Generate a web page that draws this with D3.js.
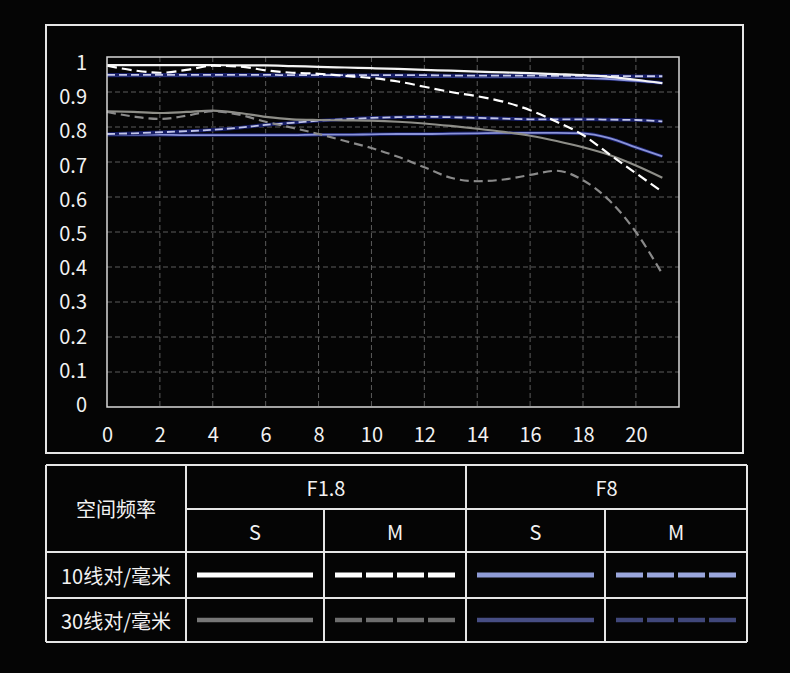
<!DOCTYPE html>
<html>
<head>
<meta charset="utf-8">
<script src="https://cdn.jsdelivr.net/npm/d3@7"></script>
<style>
  html, body { margin: 0; padding: 0; background: #050505; }
  svg text { font-family: "Noto Sans CJK SC", "Noto Sans", sans-serif; fill: #f2f2f2; }
</style>
</head>
<body>
<div id="container"></div>
<script>
'use strict';
(function() {
    // data (spatial position in mm vs MTF)
    var xs = [0, 1, 2, 3, 4, 5, 6, 7, 8, 9, 10, 11, 12, 13, 14, 15, 16, 17, 18, 19, 20, 21];
    var f18S10 = [0.977,0.977,0.977,0.977,0.977,0.976,0.976,0.974,0.972,0.970,0.968,0.966,0.963,0.961,0.958,0.956,0.954,0.951,0.948,0.943,0.935,0.925];
    var f18M10 = [0.975,0.962,0.955,0.963,0.975,0.973,0.962,0.955,0.952,0.946,0.940,0.930,0.915,0.900,0.888,0.872,0.848,0.815,0.777,0.722,0.668,0.615];
    var f18S30 = [0.845,0.843,0.840,0.843,0.847,0.840,0.829,0.822,0.820,0.819,0.818,0.815,0.810,0.803,0.795,0.786,0.775,0.760,0.742,0.720,0.690,0.655];
    var f18M30 = [0.843,0.830,0.823,0.832,0.845,0.835,0.815,0.798,0.780,0.760,0.740,0.715,0.685,0.655,0.645,0.650,0.663,0.675,0.648,0.590,0.500,0.380];
    var f8S10 = [0.947,0.947,0.947,0.947,0.947,0.947,0.947,0.947,0.946,0.946,0.946,0.946,0.945,0.945,0.944,0.944,0.943,0.942,0.940,0.937,0.932,0.926];
    var f8M10 = [0.949,0.949,0.949,0.949,0.949,0.949,0.949,0.948,0.948,0.948,0.948,0.948,0.948,0.947,0.947,0.947,0.947,0.946,0.946,0.946,0.945,0.945];
    var f8S30 = [0.778,0.778,0.778,0.777,0.777,0.777,0.777,0.777,0.778,0.778,0.779,0.780,0.780,0.781,0.782,0.783,0.783,0.783,0.782,0.768,0.742,0.716];
    var f8M30 = [0.780,0.782,0.785,0.788,0.792,0.798,0.806,0.812,0.818,0.822,0.826,0.828,0.829,0.828,0.826,0.824,0.822,0.822,0.822,0.821,0.820,0.816];

    var xTicks = [0, 2, 4, 6, 8, 10, 12, 14, 16, 18, 20];
    var yTicks = [0, 0.1, 0.2, 0.3, 0.4, 0.5, 0.6, 0.7, 0.8, 0.9, 1];

    var headCorner = '空间频率';
    var apertures = ['F1.8', 'F8'];
    var directions = ['S', 'M'];
    var frequencies = ['10线对/毫米', '30线对/毫米'];

    // series styling (drawing order: back to front)
    var series = [
        {values: f8S30, color: '#8a93d8', dash: null, navy: true},
        {values: f8M30, color: '#c0c4e8', dash: '8,4', navy: true},
        {values: f18S30, color: '#8e8e88', dash: null},
        {values: f18M30, color: '#8a8a8a', dash: '9,5'},
        {values: f8S10, color: '#9099dc', dash: null, navy: true},
        {values: f8M10, color: '#c6c9ea', dash: '8,4', navy: true},
        {values: f18S10, color: '#f4f4f4', dash: null},
        {values: f18M10, color: '#ffffff', dash: '10,5'}
    ];

    // legend swatch colours [frequency][aperture*2+direction]
    var legendColors = [
        ['#ffffff', '#ffffff', '#8e9bd6', '#9aa6dc'],
        ['#777777', '#6e6e6e', '#474e84', '#40477a']
    ];

    var W = 790, H = 673;
    var svg = d3.select('#container').append('svg')
        .attr('width', W)
        .attr('height', H);

    svg.append('rect')
        .attr('width', W).attr('height', H)
        .attr('fill', '#050505');

    // outer frame of the chart
    svg.append('rect')
        .attr('x', 46).attr('y', 25)
        .attr('width', 697).attr('height', 428)
        .attr('fill', 'none')
        .attr('stroke', '#e6e6e6')
        .attr('stroke-width', 2);

    var plot = {left: 107, top: 57, right: 679, bottom: 407};

    var x = d3.scaleLinear()
        .domain([0, 21.63])
        .range([plot.left, plot.right]);
    var y = d3.scaleLinear()
        .domain([0, 1])
        .range([plot.bottom, plot.top]);
    // the labels in the picture sit a bit tighter than the grid
    var yLabel = d3.scaleLinear()
        .domain([0, 1])
        .range([plot.bottom - 2, plot.top + 6]);

    // grid
    var grid = svg.append('g').attr('class', 'grid');
    grid.selectAll('.vgrid')
        .data(xTicks.filter(function(d) { return d > 0; }))
        .enter().append('line')
        .attr('class', 'vgrid')
        .attr('x1', function(d) { return x(d); })
        .attr('x2', function(d) { return x(d); })
        .attr('y1', plot.top).attr('y2', plot.bottom)
        .attr('stroke', '#5c5c5c')
        .attr('stroke-dasharray', '5,3');
    grid.selectAll('.hgrid')
        .data(yTicks.filter(function(d) { return d > 0 && d < 1; }))
        .enter().append('line')
        .attr('class', 'hgrid')
        .attr('y1', function(d) { return y(d); })
        .attr('y2', function(d) { return y(d); })
        .attr('x1', plot.left).attr('x2', plot.right)
        .attr('stroke', '#5c5c5c')
        .attr('stroke-dasharray', '5,3');

    // axes (labels only, ticks hidden)
    var yAxis = d3.axisLeft(yLabel)
        .tickValues(yTicks)
        .tickSize(0)
        .tickPadding(20)
        .tickFormat(function(d) { return d === 0 || d === 1 ? String(d) : d3.format('.1f')(d); });
    var gy = svg.append('g')
        .attr('transform', 'translate(' + plot.left + ',0)')
        .call(yAxis);
    gy.select('.domain').remove();
    gy.selectAll('text')
        .attr('font-size', 20)
        .style('fill', '#f2f2f2')
        .attr('font-family', '"Noto Sans CJK SC", "Noto Sans", sans-serif');

    var xAxis = d3.axisBottom(x)
        .tickValues(xTicks)
        .tickSize(0)
        .tickPadding(21);
    var gx = svg.append('g')
        .attr('transform', 'translate(0,' + plot.bottom + ')')
        .call(xAxis);
    gx.select('.domain').remove();
    gx.selectAll('text')
        .attr('font-size', 20)
        .style('fill', '#f2f2f2')
        .attr('font-family', '"Noto Sans CJK SC", "Noto Sans", sans-serif');

    // curves
    var line = d3.line()
        .x(function(d, i) { return x(xs[i]); })
        .y(function(d) { return y(d); })
        .curve(d3.curveMonotoneX);

    var lines = svg.append('g').attr('class', 'lines');
    series.forEach(function(s) {
        if (s.navy) {
            lines.append('path')
                .attr('d', line(s.values))
                .attr('fill', 'none')
                .attr('stroke', '#171e66')
                .attr('stroke-width', 3.6);
        }
        lines.append('path')
            .attr('d', line(s.values))
            .attr('fill', 'none')
            .attr('stroke', s.color)
            .attr('stroke-width', s.navy ? 1.8 : 2.2)
            .attr('stroke-dasharray', s.dash);
    });

    // plot border on top
    svg.append('rect')
        .attr('x', plot.left).attr('y', plot.top)
        .attr('width', plot.right - plot.left)
        .attr('height', plot.bottom - plot.top)
        .attr('fill', 'none')
        .attr('stroke', '#d8d8d8')
        .attr('stroke-width', 1.5);

    // legend table
    var colX = [46, 186, 324, 466, 605, 747];
    var rowY = [465, 509, 552, 598, 642];
    var tbl = svg.append('g').attr('class', 'table');
    var tStroke = '#e6e6e6';

    function hline(x1, x2, yy) {
        tbl.append('line').attr('x1', x1).attr('x2', x2).attr('y1', yy).attr('y2', yy)
            .attr('stroke', tStroke).attr('stroke-width', 2);
    }
    function vline(xx, y1, y2) {
        tbl.append('line').attr('x1', xx).attr('x2', xx).attr('y1', y1).attr('y2', y2)
            .attr('stroke', tStroke).attr('stroke-width', 2);
    }
    hline(colX[0], colX[5], rowY[0]);
    hline(colX[1], colX[5], rowY[1]);
    hline(colX[0], colX[5], rowY[2]);
    hline(colX[0], colX[5], rowY[3]);
    hline(colX[0], colX[5], rowY[4]);
    vline(colX[0], rowY[0], rowY[4]);
    vline(colX[1], rowY[0], rowY[4]);
    vline(colX[3], rowY[0], rowY[4]);
    vline(colX[5], rowY[0], rowY[4]);
    vline(colX[2], rowY[1], rowY[4]);
    vline(colX[4], rowY[1], rowY[4]);

    function cellText(txt, cx, cy) {
        tbl.append('text')
            .attr('x', cx).attr('y', cy)
            .attr('text-anchor', 'middle')
            .attr('dominant-baseline', 'central')
            .attr('font-size', 20)
            .text(txt);
    }
    cellText(headCorner, (colX[0] + colX[1]) / 2, (rowY[0] + rowY[2]) / 2);
    apertures.forEach(function(a, i) {
        cellText(a, (colX[1 + 2 * i] + colX[3 + 2 * i]) / 2, (rowY[0] + rowY[1]) / 2);
        directions.forEach(function(d, j) {
            var c = 1 + 2 * i + j;
            cellText(d, (colX[c] + colX[c + 1]) / 2, (rowY[1] + rowY[2]) / 2 + 1);
        });
    });
    frequencies.forEach(function(f, r) {
        var cy = (rowY[2 + r] + rowY[3 + r]) / 2;
        cellText(f, (colX[0] + colX[1]) / 2, cy);
        for (var c = 0; c < 4; c++) {
            var dashed = c % 2 === 1;
            var x1 = colX[c + 1] + 11, x2 = colX[c + 2] - 11;
            var dashLen = ((x2 - x1) - 3 * 4) / 4;
            tbl.append('line')
                .attr('x1', x1)
                .attr('x2', x2)
                .attr('y1', cy).attr('y2', cy)
                .attr('stroke', legendColors[r][c])
                .attr('stroke-width', r === 0 ? 5 : 4.5)
                .attr('stroke-dasharray', dashed ? dashLen + ',4' : null);
        }
    });
})();
</script>
</body>
</html>
